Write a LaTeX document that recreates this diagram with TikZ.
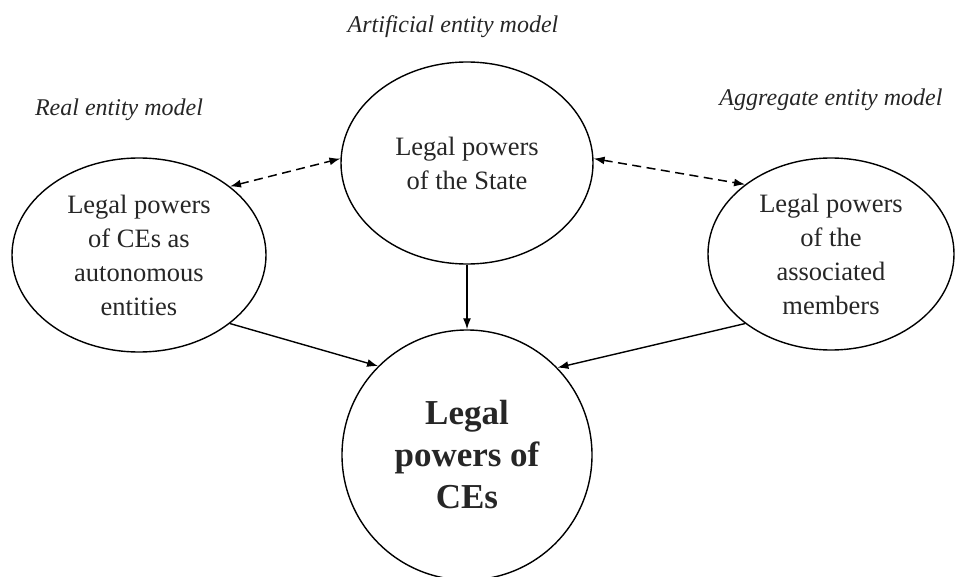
\documentclass[tikz,border=0pt]{standalone}
\usepackage{fontspec}
\setmainfont{Liberation Serif}
\usetikzlibrary{shapes.geometric,arrows.meta}
\begin{document}
\begin{tikzpicture}[x=1pt,y=-1pt,
  every node/.style={text=black!85},
  blob/.style={ellipse,draw=black,line width=1.4pt,inner sep=0pt,align=center,
    font=\fontsize{26.5}{34}\selectfont},
  hub/.style={circle,draw=black,line width=1.4pt,inner sep=0pt,align=center,
    minimum size=250pt,font=\fontsize{35}{42}\selectfont\bfseries},
  model/.style={font=\fontsize{24}{28}\selectfont\itshape},
  link/.style={line width=1.4pt,-{Latex[length=11pt,width=8pt]}},
  mutual/.style={line width=1.5pt,dash pattern=on 9pt off 5.5pt,
    {Latex[length=11pt,width=8pt]}-{Latex[length=11pt,width=8pt]}}]
\useasboundingbox (0,0) rectangle (956,577);

% entity models
\node[model] (artlab) at (453,27) {Artificial entity model};
\node[model] (reallab) at (119,110) {Real entity model};
\node[model] (agglab) at (831,100) {Aggregate entity model};

% sources of legal powers
\node[blob,minimum width=252pt,minimum height=202pt] (state) at (467,163)
  {Legal powers\\of the State};
\node[blob,minimum width=254pt,minimum height=194pt] (auto) at (139,255)
  {Legal powers\\of CEs as\\autonomous\\entities};
\node[blob,minimum width=246pt,minimum height=192pt] (members) at (831,254)
  {Legal powers\\of the\\associated\\members};

% resulting powers
\node[hub] (ces) at (467,455) {Legal\\powers of\\CEs};

% connectors
\draw[mutual] (auto.37) -- (state.178);
\draw[mutual] (state.2) -- (members.141);
\draw[link] (state.south) -- (ces.north);
\draw[link] (auto.-37) -- (ces.135);
\draw[link] (members.219) -- (ces.44);
\end{tikzpicture}
\end{document}
